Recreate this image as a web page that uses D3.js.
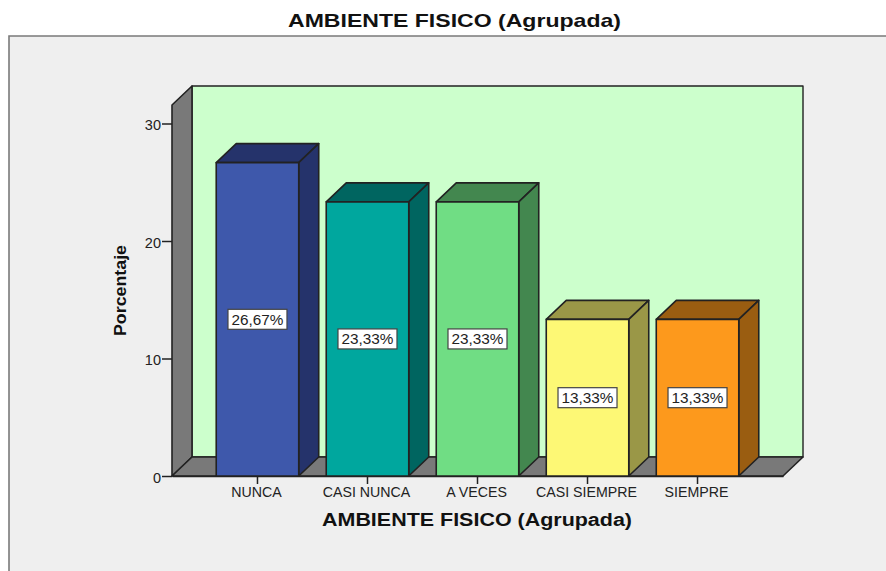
<!DOCTYPE html>
<html><head><meta charset="utf-8">
<script src="https://cdn.jsdelivr.net/npm/d3@7"></script>
<style>html,body{margin:0;padding:0;background:#fff}svg{display:block}text{font-family:"Liberation Sans",Arial,sans-serif}</style>
</head><body><svg id="c" width="886" height="571"></svg>
<script>
const categories = ["NUNCA","CASI NUNCA","A VECES","CASI SIEMPRE","SIEMPRE"];
const values = [26.67,23.33,23.33,13.33,13.33];
const valueLabels = ["26,67%","23,33%","23,33%","13,33%","13,33%"];
const frontColors = ["#3e58ab","#00a79e","#70dd84","#fdf875","#fd991c"];
const topColors = ["#25336b","#006560","#43874f","#9a9747","#9a5d11"];
const sideColors = ["#25336b","#006560","#43874f","#9a9747","#9a5d11"];
const yTicks = [0,10,20,30];
const title = "AMBIENTE FISICO (Agrupada)";
const yTitle = "Porcentaje";

const svg = d3.select("#c");
const x = d3.scaleBand().domain(categories).range([172,783]).paddingInner(0.25).paddingOuter(0.402);
const y = d3.scaleLinear().domain([0,30]).range([476,123.5]);
const dx = 20, dy = -19;
const yTop = 105, y0 = y(0), ink = "#222";
const poly = (pts,fill,sw=1.6)=>svg.append("polygon").attr("points",pts.map(p=>p.join(",")).join(" "))
  .attr("fill",fill).attr("stroke",ink).attr("stroke-width",sw).attr("stroke-linejoin","round");

// panel
svg.append("rect").attr("x",9).attr("y",36).attr("width",877).attr("height",535).attr("fill","#efefef");
svg.append("path").attr("d","M9,571V36H886").attr("fill","none").attr("stroke","#7a7a7a").attr("stroke-width",1.6);

svg.append("text").attr("x",454.5).attr("y",27).attr("text-anchor","middle")
  .attr("font-size",19).attr("font-weight","bold").attr("fill","#111")
  .attr("textLength",333).attr("lengthAdjust","spacingAndGlyphs").text(title);

// walls
const [xL,xR] = x.range();
poly([[xL+dx,y0+dy],[xR+dx,y0+dy],[xR+dx,yTop+dy],[xL+dx,yTop+dy]],"#ccffcc",1.4);
poly([[xL,y0],[xL+dx,y0+dy],[xL+dx,yTop+dy],[xL,yTop]],"#797979");
poly([[xL,y0],[xL+dx,y0+dy],[xR+dx,y0+dy],[xR,y0]],"#797979");

// y axis
const yAxis = svg.append("g").attr("transform",`translate(${xL},0)`)
  .call(d3.axisLeft(y).tickValues(yTicks).tickSize(10).tickPadding(1));
yAxis.select(".domain").remove();
yAxis.selectAll("line").attr("stroke",ink).attr("stroke-width",1.5);
yAxis.selectAll("text").attr("font-size",14.5).attr("fill","#222").attr("dy","0.42em");

// x axis
const xAxis = svg.append("g").attr("transform",`translate(0,${y0})`)
  .call(d3.axisBottom(x).tickSize(8).tickPadding(3).tickSizeOuter(0));
xAxis.select(".domain").attr("stroke",ink).attr("stroke-width",1.6);
xAxis.selectAll("line").attr("stroke",ink).attr("stroke-width",1.5);
xAxis.selectAll("text").attr("font-size",14.2).attr("fill","#222").attr("dx",-1);

// bars
categories.forEach((c,i)=>{
  const l = x(c), r = l + x.bandwidth(), t = y(values[i]);
  poly([[l,t],[l+dx,t+dy],[r+dx,t+dy],[r,t]],topColors[i]);
  poly([[r,t],[r+dx,t+dy],[r+dx,y0+dy],[r,y0]],sideColors[i]);
  poly([[l,t],[r,t],[r,y0],[l,y0]],frontColors[i]);
});

// value labels
categories.forEach((c,i)=>{
  const cx = x(c)+x.bandwidth()/2, cy = y(values[i]/2);
  svg.append("rect").attr("x",cx-29.5).attr("y",cy-10).attr("width",59).attr("height",20)
    .attr("fill","#fff").attr("stroke","#444").attr("stroke-width",1.2);
  svg.append("text").attr("x",cx).attr("y",cy+5.5).attr("text-anchor","middle")
    .attr("font-size",15.3).attr("fill","#222").text(valueLabels[i]);
});

svg.append("text").attr("x",477).attr("y",526).attr("text-anchor","middle")
  .attr("font-size",17.5).attr("font-weight","bold").attr("fill","#111")
  .attr("textLength",310).attr("lengthAdjust","spacingAndGlyphs").text(title);
svg.append("text").attr("transform","translate(126,290.5) rotate(-90)").attr("text-anchor","middle")
  .attr("font-size",17).attr("font-weight","bold").attr("fill","#111")
  .attr("textLength",91).attr("lengthAdjust","spacingAndGlyphs").text(yTitle);
</script></body></html>
